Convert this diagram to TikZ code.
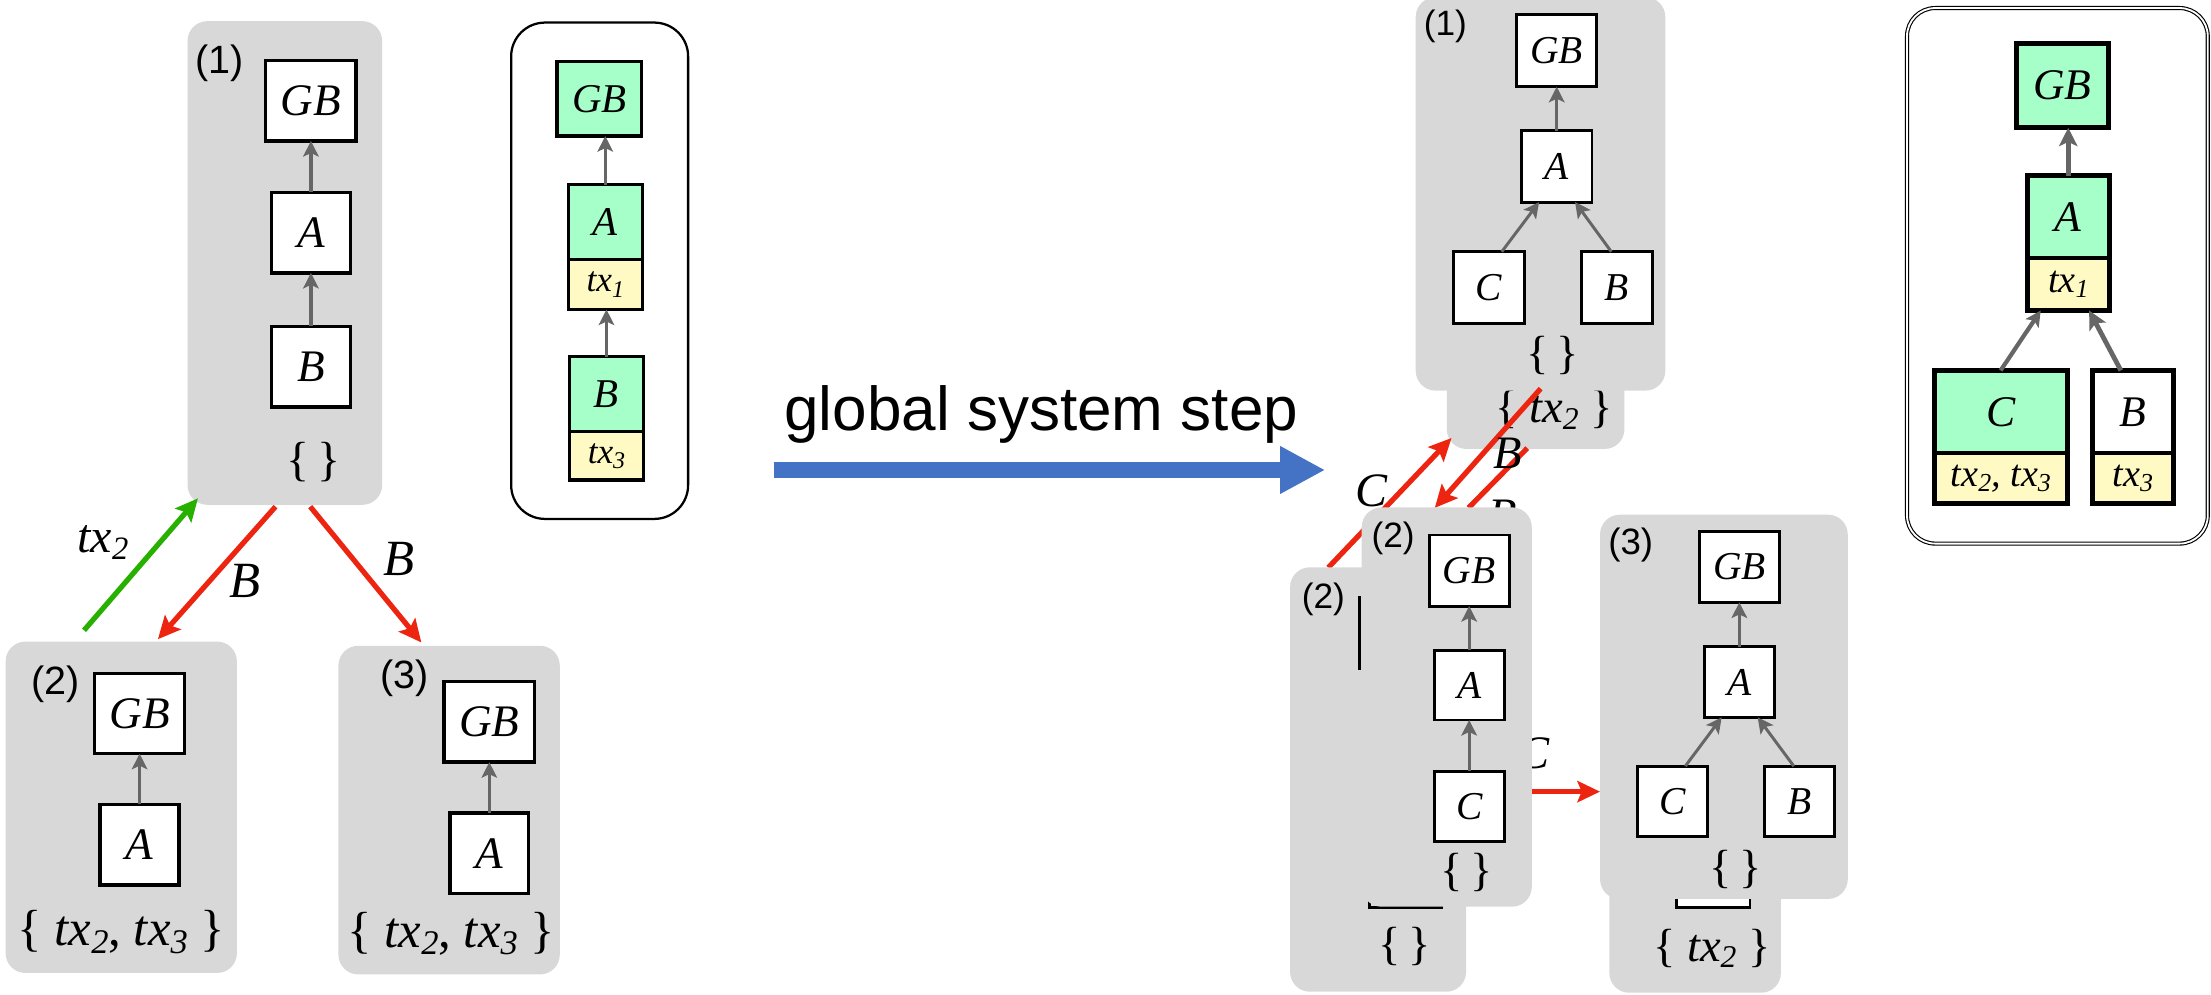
\documentclass[tikz,border=0pt]{standalone}
\usepackage{fontspec}
\setmainfont{Liberation Serif}
\setsansfont{Liberation Sans}
\usepackage{graphicx}
\usetikzlibrary{arrows.meta}

\definecolor{boxgray}{RGB}{216,216,216}
\definecolor{edgegray}{RGB}{102,102,102}
\definecolor{mint}{RGB}{166,255,200}
\definecolor{cream}{RGB}{255,250,196}
\definecolor{linkred}{RGB}{236,36,16}
\definecolor{linkgreen}{RGB}{40,176,0}
\definecolor{stepblue}{RGB}{68,114,196}

% lowered, shrunken index that follows the current font size
\newcommand\sbx[1]{\raisebox{-0.32ex}{\scalebox{0.68}{#1}}}
\newcommand\tx[1]{\textit{tx\sbx{#1}}}

\tikzset{
  statebox/.style={fill=boxgray, rounded corners=14pt, inner sep=0pt, outer sep=0pt},
  numtag/.style={font=\sffamily\fontsize{#1}{#1}\selectfont, inner sep=0pt},
  blk/.style={draw=black, fill=white, line width=2.4pt, inner sep=0pt, outer sep=0pt,
              font=\fontsize{#1}{#1}\selectfont\itshape},
  setlab/.style={font=\fontsize{#1}{#1}\selectfont, inner sep=0pt},
  elab/.style={font=\fontsize{#1}{#1}\selectfont\itshape, inner sep=0pt},
  garrow/.style={draw=edgegray, line width=2.4pt, -{Stealth[length=11pt,width=11pt,inset=2.5pt]}},
  thickgarrow/.style={draw=edgegray, line width=3.4pt, -{Stealth[length=13pt,width=13pt,inset=3pt]}},
  redarrow/.style={draw=linkred, line width=3.7pt, -{Stealth[length=16pt,width=15pt,inset=3pt]}},
  redline/.style={draw=linkred, line width=3.7pt},
  greenarrow/.style={draw=linkgreen, line width=3.7pt, -{Stealth[length=16pt,width=15pt,inset=3pt]}},
  remnant/.style={draw=black, line width=2pt},
}

\begin{document}
\begin{tikzpicture}[x=1pt,y=-1pt]
\useasboundingbox (0,0) rectangle (1568,705);

% ================= left: state before the step =================
% node (1)
\node[statebox, minimum width=138pt, minimum height=343pt] (L1) at (202,186.5) {};
\node[numtag=28] (L1tag) at (156,45) {(1)};
\node[blk=32, minimum width=64pt, minimum height=57pt] (L1gb) at (220.5,71.5) {GB};
\node[blk=32, minimum width=56pt, minimum height=57pt] (L1a) at (220.5,165) {A};
\node[blk=32, minimum width=56pt, minimum height=57pt] (L1b) at (220.5,260) {B};
\node[setlab=34] (L1set) at (222,328) {\{\,\}};
\draw[garrow] (L1a) -- (L1gb);
\draw[garrow] (L1b) -- (L1a);

% node (2)
\node[statebox, minimum width=164pt, minimum height=235pt] (L2) at (86,572.5) {};
\node[numtag=28] (L2tag) at (39.5,485) {(2)};
\node[blk=32, minimum width=64pt, minimum height=57pt] (L2gb) at (99,506) {GB};
\node[blk=32, minimum width=56pt, minimum height=57pt] (L2a) at (99,599) {A};
\node[setlab=36] (L2set) at (86,661) {\{ \tx{2}, \tx{3} \}};
\draw[garrow] (L2a) -- (L2gb);

% node (3)
\node[statebox, minimum width=157pt, minimum height=233pt] (L3) at (318.5,574.5) {};
\node[numtag=28] (L3tag) at (287,481) {(3)};
\node[blk=32, minimum width=64pt, minimum height=57pt] (L3gb) at (347,512) {GB};
\node[blk=32, minimum width=56pt, minimum height=57pt] (L3a) at (347,605) {A};
\node[setlab=36] (L3set) at (320,662) {\{ \tx{2}, \tx{3} \}};
\draw[garrow] (L3a) -- (L3gb);

% messages between the nodes
\coordinate (g0) at (59.6,447);
\coordinate (g1) at (140.4,353.4);
\draw[greenarrow] (g0) -- (g1);
\node[elab=34] (gl) at (73,385) {tx\sbx{2}};
\coordinate (r10) at (195.4,359.3);
\coordinate (r11) at (112,453.3);
\draw[redarrow] (r10) -- (r11);
\node[elab=36] (rl1) at (173.4,412) {B};
\coordinate (r20) at (220,359.3);
\coordinate (r21) at (298.8,455.6);
\draw[redarrow] (r20) -- (r21);
\node[elab=36] (rl2) at (283.3,396.2) {B};

% global chain before the step
\node[draw=black, line width=1.6pt, rounded corners=24pt, minimum width=125.5pt,
      minimum height=352pt, inner sep=0pt] (F1) at (425.25,192) {};
\node[blk=29, fill=mint, minimum width=60pt, minimum height=53pt] (F1gb) at (425,70) {GB};
\node[blk=29, fill=mint, minimum width=52.5pt, minimum height=53pt] (F1a) at (429.25,157.5) {A};
\node[blk=25, fill=cream, minimum width=52.5pt, minimum height=35.5pt] (F1at) at (429.25,201.75) {tx\sbx{1}};
\node[blk=29, fill=mint, minimum width=52.8pt, minimum height=53pt] (F1b) at (430.1,279.5) {B};
\node[blk=25, fill=cream, minimum width=52.8pt, minimum height=34.5pt] (F1bt) at (430.1,323.25) {tx\sbx{3}};
\draw[garrow] (F1a.north) -- (F1a.north |- F1gb.south);
\draw[garrow] (F1b.north) -- (F1b.north |- F1at.south);

% ================= the step =================
\coordinate (bs) at (548.6,333.3);
\coordinate (be) at (939.8,333.3);
\draw[stepblue, line width=10.9pt, -{Triangle[length=32pt,width=31.6pt]}] (bs) -- (be);
\node[font=\sffamily\fontsize{44}{44}\selectfont, anchor=base, inner sep=0pt] (steplab) at (738.5,305) {global system step};

% ================= right: state after the step =================
% node (1), with its earlier view behind it
\node[statebox, minimum width=126pt, minimum height=278.4pt] (R1o) at (1089,179.2) {};
\node[setlab=33] (R1oset) at (1102,290.5) {\{ \tx{2} \}};
\node[statebox, minimum width=177pt, minimum height=279pt] (R1) at (1092.5,137.5) {};
\node[numtag=25] (R1tag) at (1025,19) {(1)};
\node[blk=28, line width=2.1pt, minimum width=56.5pt, minimum height=51pt] (R1gb) at (1104,36) {GB};
\node[blk=28, line width=2.1pt, minimum width=50pt, minimum height=50.6pt] (R1a) at (1104,118) {A};
\node[blk=28, line width=2.1pt, minimum width=50pt, minimum height=51pt] (R1c) at (1056,204) {C};
\node[blk=28, line width=2.1pt, minimum width=50pt, minimum height=51pt] (R1b) at (1146.7,204) {B};
\node[setlab=33] (R1set) at (1101,252) {\{\,\}};
\draw[garrow, line width=2.1pt] (R1a) -- (R1gb);
\draw[garrow, line width=2.1pt] ([xshift=9pt]R1c.north) -- ([xshift=-12.5pt]R1a.south);
\draw[garrow, line width=2.1pt] ([xshift=-4pt]R1b.north) -- ([xshift=13pt]R1a.south);

% messages around node (2)
\coordinate (rc0) at (942,402.5);
\coordinate (rc1) at (1029.4,310.6);
\draw[redarrow] (rc0) -- (rc1);
\node[elab=34] (rcl) at (972.7,348.3) {C};
\coordinate (rs0) at (1083.1,317.8);
\coordinate (rs1) at (1041.4,360.2);
\draw[redline] (rs0) -- (rs1);
\coordinate (rb0) at (1092.6,275.6);
\coordinate (rb1) at (1017.5,360.2);
\draw[redarrow] (rb0) -- (rb1);
\node[elab=33] (rbl) at (1069.4,321.4) {B};
\node[elab=33] (rbl2) at (1066,365.5) {B};

% node (2), earlier view
\node[statebox, minimum width=124.8pt, minimum height=301pt] (R2o) at (977.3,552.8) {};
\node[numtag=25] (R2otag) at (938.5,425) {(2)};
\draw[remnant] (964.3,423) -- (964.3,475);
\draw[remnant] (971,636) -- (971,643.5) -- (1023.6,643.5);
\node[setlab=33] (R2oset) at (996,671) {\{\,\}};
\node[elab=33] (rhl) at (1088,534) {C};

% node (2), current view
\node[statebox, minimum width=120.6pt, minimum height=283.2pt] (R2) at (1026,501.4) {};
\node[numtag=25] (R2tag) at (988,382) {(2)};
\node[blk=28, line width=2.1pt, minimum width=56.7pt, minimum height=50.4pt] (R2gb) at (1041.9,404.6) {GB};
\node[blk=28, line width=2.1pt, minimum width=49.6pt, minimum height=49.6pt] (R2a) at (1041.9,485.8) {A};
\node[blk=28, line width=2.1pt, minimum width=49.6pt, minimum height=50pt] (R2c) at (1041.9,571.8) {C};
\node[setlab=33] (R2set) at (1040,619) {\{\,\}};
\draw[garrow, line width=2.1pt] (R2a) -- (R2gb);
\draw[garrow, line width=2.1pt] (R2c) -- (R2a);

% node (3), earlier view
\node[statebox, minimum width=121.7pt, minimum height=284pt] (R3o) at (1202.15,562) {};
\node[setlab=33] (R3oset) at (1214,672.6) {\{ \tx{2} \}};
\draw[remnant, fill=white] (1189,600) rectangle (1241,643.5);

% node (3), current view
\node[statebox, minimum width=175.7pt, minimum height=272.5pt] (R3) at (1222.55,501.25) {};
\node[numtag=26] (R3tag) at (1156.5,386.5) {(3)};
\node[blk=28, line width=2.1pt, minimum width=56.7pt, minimum height=50.4pt] (R3gb) at (1233.5,402) {GB};
\node[blk=28, line width=2.1pt, minimum width=49.7pt, minimum height=50pt] (R3a) at (1233.5,483.7) {A};
\node[blk=28, line width=2.1pt, minimum width=49.7pt, minimum height=50pt] (R3c) at (1186.2,568.3) {C};
\node[blk=28, line width=2.1pt, minimum width=49.7pt, minimum height=50pt] (R3b) at (1276.1,568.3) {B};
\node[setlab=33] (R3set) at (1231,616.5) {\{\,\}};
\draw[garrow, line width=2.1pt] (R3a) -- (R3gb);
\draw[garrow, line width=2.1pt] ([xshift=9pt]R3c.north) -- ([xshift=-12.5pt]R3a.south);
\draw[garrow, line width=2.1pt] ([xshift=-4pt]R3b.north) -- ([xshift=13pt]R3a.south);

% message from (2) to (3)
\coordinate (rh0) at (1086.3,561.4);
\coordinate (rh1) at (1134.7,561.4);
\draw[redarrow] (rh0) -- (rh1);

% global chain after the step
\node[draw=black, line width=0.8pt, double, double distance=1.3pt, rounded corners=20pt,
      minimum width=213.3pt, minimum height=379.8pt, inner sep=0pt] (F2) at (1459.05,195.6) {};
\node[blk=31, line width=3.4pt, fill=mint, minimum width=65pt, minimum height=60pt] (F2gb) at (1462.6,60.6) {GB};
\node[blk=31, line width=3.4pt, fill=mint, minimum width=58pt, minimum height=58.4pt] (F2a) at (1466.75,153.8) {A};
\node[blk=27, line width=3.4pt, fill=cream, minimum width=58pt, minimum height=37.2pt] (F2at) at (1466.75,201.6) {tx\sbx{1}};
\node[blk=31, line width=3.4pt, fill=mint, minimum width=94pt, minimum height=58.6pt] (F2c) at (1419,292) {C};
\node[blk=27, line width=3.4pt, fill=cream, minimum width=94pt, minimum height=36pt] (F2ct) at (1419,339.3) {tx\sbx{2}, tx\sbx{3}};
\node[blk=31, line width=3.4pt, fill=white, minimum width=57.3pt, minimum height=58.6pt] (F2b) at (1512.65,292) {B};
\node[blk=27, line width=3.4pt, fill=cream, minimum width=57.3pt, minimum height=36pt] (F2bt) at (1512.65,339.3) {tx\sbx{3}};
\draw[thickgarrow] (F2a.north) -- (F2a.north |- F2gb.south);
\draw[garrow, line width=3pt] ([xshift=-0.2pt]F2c.north) -- ([xshift=-19.5pt]F2at.south);
\draw[thickgarrow] ([xshift=-8.6pt]F2b.north) -- ([xshift=14.8pt]F2at.south);
\end{tikzpicture}
\end{document}
